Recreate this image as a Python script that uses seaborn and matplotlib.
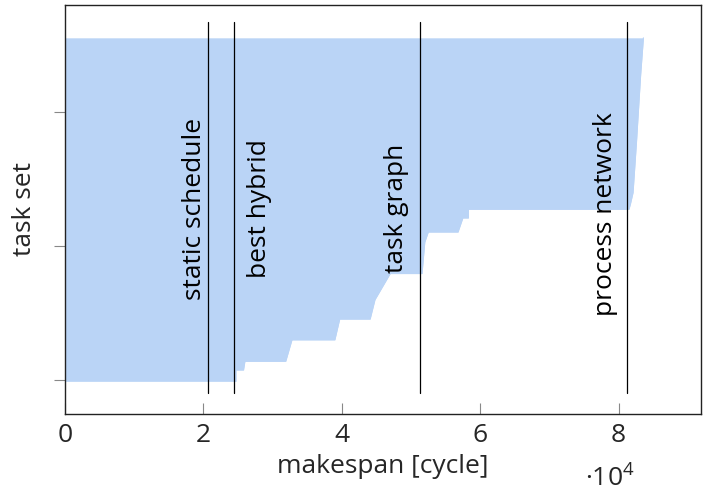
import matplotlib
matplotlib.use("Agg")
import matplotlib.pyplot as plt
import pandas as pd
import seaborn as sns
from matplotlib.ticker import FuncFormatter

# Boundary of the sorted makespans over all task sets (index, makespan in cycles)
task_set = [-1, 7.5, 7.5, 14, 14, 30, 30, 45.5, 45.5, 60, 79.5, 79.5, 103, 110.5,
            110.5, 121, 121, 127.5, 127.5, 131, 140, 178, 228, 255.5]
makespan = [24700, 24700, 25800, 26000, 31900, 32800, 39000, 39700, 44100, 44800,
            47000, 51600, 52000, 52500, 56800, 57500, 58300, 58300, 81500, 81700,
            82100, 82600, 83200, 83600]

# Reference makespans of the individual approaches
methods = ["static schedule", "best hybrid", "task graph", "process network"]
method_makespan = [20720, 24480, 51290, 81210]

x_ticks = [0, 20000, 40000, 60000, 80000]
y_ticks = [0, 100, 200]

sns.set_theme(style="white")
plt.rcParams["font.family"] = ["Open Sans", "DejaVu Sans"]
plt.rcParams["mathtext.fontset"] = "custom"
plt.rcParams["mathtext.rm"] = "Open Sans"

FS = 19
FILL = "#bad4f6"

fig = plt.figure(figsize=(7.03, 4.94), dpi=100)
ax = fig.add_axes([65 / 703, 1 - 413.5 / 494, 635.5 / 703, 408.5 / 494])

df = pd.DataFrame({"task set": task_set, "makespan": makespan})
ax.fill_betweenx(df["task set"], 0, df["makespan"], color=FILL, lw=0, zorder=1)
sns.lineplot(data=df, x="makespan", y="task set", orient="y", sort=False,
             estimator=None, color=FILL, lw=0.8, ax=ax, zorder=1)

# label placement: (baseline offset from the line in points, position along y)
label_layout = [(-5.0, 128), (23.0, 128), (-12.0, 128), (-11.0, 124)]
for name, xv, (dx, yc) in zip(methods, method_makespan, label_layout):
    ax.axvline(xv, ymin=0.05, ymax=0.958, color="black", lw=0.9, zorder=3)
    ax.annotate(name, xy=(xv, yc), xytext=(dx, 0), textcoords="offset points",
                rotation=90, rotation_mode="anchor", ha="center", va="baseline",
                fontsize=FS, color="black", zorder=4)

ax.set_xlim(0, 91850)
ax.set_ylim(-25, 280)
ax.set_xticks(x_ticks)
ax.xaxis.set_major_formatter(FuncFormatter(lambda v, _: f"{v / 1e4:g}"))
ax.set_yticks(y_ticks)
ax.tick_params(axis="y", direction="out", length=8, width=0.8, color="#888888",
               labelleft=False, left=True)
ax.tick_params(axis="x", direction="in", length=8, width=0.8, color="#888888",
               labelsize=FS, pad=7, bottom=True)
for s in ax.spines.values():
    s.set_color("#222222")
    s.set_linewidth(1.0)

ax.set_xlabel("makespan [cycle]", fontsize=FS, labelpad=4)
ax.set_ylabel("task set", fontsize=FS, labelpad=12)
ax.text(0.818, -0.178, r"$\mathregular{·10^4}$", transform=ax.transAxes,
        ha="left", va="baseline", fontsize=FS)

fig.savefig("out.png", dpi=100)
